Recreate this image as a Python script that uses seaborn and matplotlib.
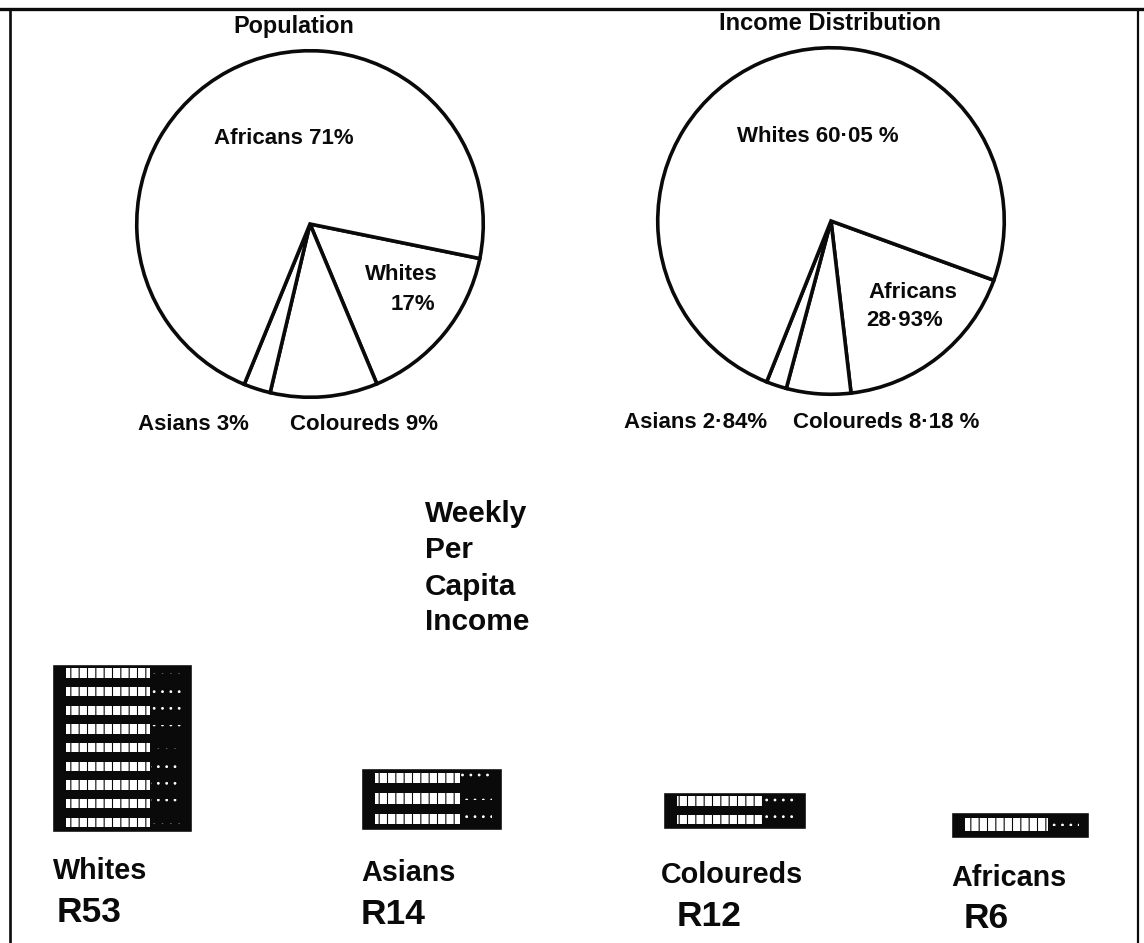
import matplotlib
matplotlib.use('Agg')
import matplotlib.pyplot as plt
import pandas as pd
import seaborn as sns

# Wedge sizes (percent of the circle) as they are drawn in the original,
# the printed percentages are not to scale with the wedges
pop_groups = ['Whites', 'Coloureds', 'Asians', 'Africans']
pop_drawn = [15.5, 10.0, 2.5, 72.0]
inc_groups = ['Africans', 'Coloureds', 'Asians', 'Whites']
inc_drawn = [17.6, 6.0, 1.9, 74.5]

# Coins in each stack and the weekly income printed under it
stack_groups = ['Whites', 'Asians', 'Coloureds', 'Africans']
stack_coins = [9, 3, 2, 1]
stack_income = ['R53', 'R14', 'R12', 'R6']

W, H = 1144, 943
INK = '#0a0a0a'

sns.set_theme(style='white')
plt.rcParams['font.family'] = ['Liberation Sans', 'DejaVu Sans']
plt.rcParams['hatch.linewidth'] = 0.8


def box(left, top, width, height):
    # pixel box (from top left) to figure fractions
    return [left / W, 1 - (top + height) / H, width / W, height / H]


def draw_pie(fig, cx, cy, r, sizes, start):
    ax = fig.add_axes(box(cx - r, cy - r, 2 * r, 2 * r))
    ax.pie(sizes, startangle=start, counterclock=False, colors=['white'] * len(sizes),
           wedgeprops={'edgecolor': INK, 'linewidth': 2.6})
    ax.set_xlim(-1.01, 1.01)
    ax.set_ylim(-1.01, 1.01)
    ax.patch.set_alpha(0)
    return ax


def draw_stack(fig, left, top, width, height, name, coins):
    ax = fig.add_axes(box(left, top, width, height))
    df = pd.DataFrame({'group': [name], 'coins': [coins]})
    sns.barplot(data=df, x='group', y='coins', color=INK, saturation=1, width=1, ax=ax)
    # reeded edge of every coin, bright on the left side only
    for i in range(coins):
        ax.bar(-0.1, 0.5, bottom=i + 0.27, width=0.6, facecolor='white',
               edgecolor=INK, hatch='||', linewidth=0)
        ax.bar(0.32, 0.3, bottom=i + 0.45, width=0.22, facecolor=INK,
               edgecolor='white', hatch='..', linewidth=0)
    ax.set_xlim(-0.5, 0.5)
    ax.set_ylim(0, coins)
    ax.axis('off')


fig = plt.figure(figsize=(W / 100, H / 100), dpi=100, facecolor='white')

draw_pie(fig, 310, 224, 175, pop_drawn, -11.5)
draw_pie(fig, 831, 221, 175, inc_drawn, -20)

draw_stack(fig, 52, 664, 140, 168, stack_groups[0], stack_coins[0])
draw_stack(fig, 361, 768, 141, 62, stack_groups[1], stack_coins[1])
draw_stack(fig, 663, 792, 143, 37, stack_groups[2], stack_coins[2])
draw_stack(fig, 951, 812, 138, 26, stack_groups[3], stack_coins[3])

# page layer in pixels, for the frame and the text
page = fig.add_axes([0, 0, 1, 1], zorder=5)
page.set_xlim(0, W)
page.set_ylim(H, 0)
page.axis('off')
page.plot([0, W], [9, 9], color=INK, lw=2.4)
page.plot([10, 10], [9, H], color=INK, lw=1.9)
page.plot([1138, 1138], [9, H], color=INK, lw=1.6)


def label(x, y, s, size=16, ha='left', weight='bold'):
    # va center sits a little high for these words, hence the +2
    page.text(x, y + 2, s, fontsize=size, ha=ha, va='center', color=INK, fontweight=weight)


label(294, 24, 'Population', size=16.8, ha='center')
label(830, 21, 'Income Distribution', size=17, ha='center')
label(284, 137, 'Africans 71%', ha='center')
label(438, 272, 'Whites', ha='right')
label(435, 303, '17%', ha='right')
label(138, 423, 'Asians 3%')
label(290, 423, 'Coloureds 9%')
label(818, 134, 'Whites 60·05 %', ha='center')
label(868, 291, 'Africans')
label(866, 319, '28·93%')
label(624, 421, 'Asians 2·84%')
label(793, 421, 'Coloureds 8·18 %')

for y, word in zip([512, 548, 585, 620], ['Weekly', 'Per', 'Capita', 'Income']):
    label(425, y, word, size=21.5)

name_pos = [(53, 869), (361, 871), (661, 873), (951, 876)]
income_pos = [(57, 910), (361, 913), (677, 915), (964, 916)]
for name, income, np_, ip in zip(stack_groups, stack_income, name_pos, income_pos):
    label(np_[0], np_[1], name, size=20.7)
    label(ip[0], ip[1], income, size=25.5)

fig.savefig('out.png', dpi=100)
plt.close(fig)
